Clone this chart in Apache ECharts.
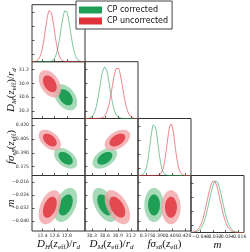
<!DOCTYPE html>
<html><head><meta charset="utf-8">
<script src="https://cdn.jsdelivr.net/npm/echarts@6/dist/echarts.min.js"></script>
<style>html,body{margin:0;padding:0;background:#fff}#c{width:250px;height:252px}</style>
</head><body><div id="c"></div>
<script>
// ---- data ----
const paramKeys = ['D_H', 'D_M', 'fsigma_s8', 'm'];
const rangeMin = [12.226, 30.144, 0.3653, -0.0463];
const rangeMax = [13.10, 31.365, 0.4272, -0.0120];
const tickValues = [[12.4, 12.6, 12.8], [30.3, 30.6, 30.9, 31.2], [0.375, 0.390, 0.405, 0.420], [-0.040, -0.032, -0.024, -0.016]];
const tickLabels = [['12.4', '12.6', '12.8'], ['30.3', '30.6', '30.9', '31.2'], ['0.375', '0.390', '0.405', '0.420'], ['\u22120.040', '\u22120.032', '\u22120.024', '\u22120.016']];
const seriesNames = ['CP corrected', 'CP uncorrected'];
const meanCorrected = [12.78, 30.60, 0.3840, -0.0302];
const sigmaCorrected = [0.078, 0.115, 0.0046, 0.0043];
const meanUncorrected = [12.52, 30.89, 0.4038, -0.0316];
const sigmaUncorrected = [0.075, 0.120, 0.0046, 0.0043];
const correlation = [
  [1, -0.4, -0.45, 0.4],
  [-0.4, 1, 0.45, -0.5],
  [-0.45, 0.45, 1, 0.0],
  [0.4, -0.5, 0.0, 1]
];
const contourRadii = [2.448, 1.509]; // 95% and 68% 2D levels
const densityTicks = [0.14, 0.41, 0.68, 0.95];

// ---- styling ----
const colsX = [32, 85, 138, 191, 244];
const rowsY = [4.7, 61.7, 118.5, 175.5, 232.5];
const darkCol = ['#1f9e55', '#e0313b'];
const lightCol = ['#a6dab8', '#f2a6aa'];
const layerOpacity = [1, 0.82];
const axisNames = [
  '{i|D}{s|H}{r|(}{i|z}{e|eff}{r|)/}{i|r}{s|d}',
  '{i|D}{s|M}{r|(}{i|z}{e|eff}{r|)/}{i|r}{s|d}',
  '{i|f\u03c3}{s|s8}{r|(}{i|z}{e|eff}{r|)}',
  '{i|m}'
];
const rich = {
  i: {fontFamily: 'Liberation Serif', fontStyle: 'italic', fontSize: 11, verticalAlign: 'middle', lineHeight: 14, color: '#111'},
  r: {fontFamily: 'Liberation Serif', fontSize: 11, verticalAlign: 'middle', lineHeight: 14, color: '#111'},
  s: {fontFamily: 'Liberation Serif', fontStyle: 'italic', fontSize: 7, verticalAlign: 'bottom', lineHeight: 14, color: '#111'},
  e: {fontFamily: 'Liberation Serif', fontSize: 7, verticalAlign: 'bottom', lineHeight: 14, color: '#111'}
};
const labelFont = {fontSize: 4.6, color: '#333', fontFamily: 'DejaVu Sans', hideOverlap: false};

const means = [meanCorrected, meanUncorrected];
const sigmas = [sigmaCorrected, sigmaUncorrected];

function fmt(p) {
  return function (v) {
    const k = tickValues[p].findIndex(t => Math.abs(t - v) < 1e-9);
    return k >= 0 ? tickLabels[p][k] : '';
  };
}
function ellipse(mx, my, sx, sy, rho, k) {
  const pts = [], n = 90, c = Math.sqrt(1 - rho * rho);
  for (let t = 0; t < n; t++) {
    const a = 2 * Math.PI * t / n, u = Math.cos(a), v = Math.sin(a);
    pts.push([mx + k * sx * u, my + k * sy * (rho * u + c * v)]);
  }
  return pts;
}

const grid = [], xAxis = [], yAxis = [], series = [];
let g = 0;
for (let i = 0; i < 4; i++) {
  for (let j = 0; j <= i; j++) {
    grid.push({left: colsX[j], top: rowsY[i], width: colsX[j + 1] - colsX[j], height: rowsY[i + 1] - rowsY[i],
      show: true, borderColor: '#333', borderWidth: 1, backgroundColor: 'transparent', containLabel: false});
    const xi = xAxis.length;
    const evenTicks = tickValues[j].filter((_, k) => k % 2 === 0);
    const oddTicks = tickValues[j].filter((_, k) => k % 2 === 1);
    xAxis.push({gridIndex: g, type: 'value', min: rangeMin[j], max: rangeMax[j], position: 'bottom',
      axisLine: {show: false}, splitLine: {show: false},
      axisTick: {show: true, inside: true, length: 2.5, customValues: tickValues[j], lineStyle: {color: '#333', width: 0.8}},
      axisLabel: Object.assign({show: i === 3, customValues: evenTicks, formatter: fmt(j), margin: 2}, labelFont),
      name: i === 3 ? axisNames[j] : '', nameLocation: 'middle', nameGap: 6, nameMoveOverlap: false,
      nameTextStyle: {rich: rich, verticalAlign: 'top'}
    });
    if (i === 3) {
      // second label row on the same bottom axis position so neighbouring labels are not dropped
      xAxis.push({gridIndex: g, type: 'value', min: rangeMin[j], max: rangeMax[j], position: 'bottom',
        axisLine: {show: false}, splitLine: {show: false}, axisTick: {show: false},
        axisLabel: Object.assign({show: true, customValues: oddTicks, formatter: fmt(j), margin: 2}, labelFont)
      });
    }
    if (i === j) {
      yAxis.push({gridIndex: g, type: 'value', min: 0, max: 1.1,
        axisLine: {show: false}, splitLine: {show: false},
        axisTick: {show: true, inside: true, length: 2.5, customValues: densityTicks, lineStyle: {color: '#333', width: 0.8}},
        axisLabel: {show: false}});
      for (let d = 0; d < 2; d++) {
        const mu = means[d][j], s = sigmas[d][j];
        const pts = [];
        const n = 140;
        for (let q = 0; q <= n; q++) {
          const x = rangeMin[j] + (rangeMax[j] - rangeMin[j]) * q / n;
          pts.push([x, Math.exp(-0.5 * ((x - mu) / s) ** 2)]);
        }
        series.push({type: 'line', name: seriesNames[d], xAxisIndex: xi, yAxisIndex: g, data: pts,
          showSymbol: false, smooth: false, color: darkCol[d], z: 3,
          lineStyle: {color: darkCol[d], width: 0.9, opacity: 0.65}, silent: true});
      }
    } else {
      yAxis.push({gridIndex: g, type: 'value', min: rangeMin[i], max: rangeMax[i],
        axisLine: {show: false}, splitLine: {show: false},
        axisTick: {show: true, inside: true, length: 2.5, customValues: tickValues[i], lineStyle: {color: '#333', width: 0.8}},
        axisLabel: Object.assign({show: j === 0, customValues: tickValues[i], formatter: fmt(i), margin: 3}, labelFont),
        name: j === 0 ? axisNames[i] : '', nameLocation: 'middle', nameGap: 14, nameRotate: 90, nameMoveOverlap: false,
        nameTextStyle: {rich: rich}
      });
      for (let d = 0; d < 2; d++) {
        const mx = means[d][j], my = means[d][i], sx = sigmas[d][j], sy = sigmas[d][i], rho = correlation[i][j];
        const polys = contourRadii.map(k => ellipse(mx, my, sx, sy, rho, k));
        const dd = d;
        series.push({type: 'custom', name: seriesNames[d], xAxisIndex: xi, yAxisIndex: g, color: darkCol[d],
          data: [[mx, my]], encode: {x: 0, y: 1}, clip: true, silent: true, z: 2,
          renderItem: function (params, api) {
            return {type: 'group', children: polys.map((poly, k) => ({
              type: 'polygon', shape: {points: poly.map(p => api.coord(p))},
              style: {fill: k === 0 ? lightCol[dd] : darkCol[dd], opacity: layerOpacity[dd]}
            }))};
          }});
      }
    }
    g++;
  }
}

const chart = echarts.init(document.getElementById('c'), null, {renderer: 'canvas'});
chart.setOption({
  animation: false,
  backgroundColor: '#fff',
  grid, xAxis, yAxis, series,
  legend: {data: seriesNames, orient: 'vertical', left: 76, top: 1, itemWidth: 23, itemHeight: 7, itemGap: 3,
    icon: 'rect', padding: [5, 4, 4, 3], borderColor: '#444', borderWidth: 1, backgroundColor: '#fff',
    textStyle: {fontSize: 8, fontFamily: 'DejaVu Sans', color: '#111'}, selectedMode: false}
});
</script></body></html>
